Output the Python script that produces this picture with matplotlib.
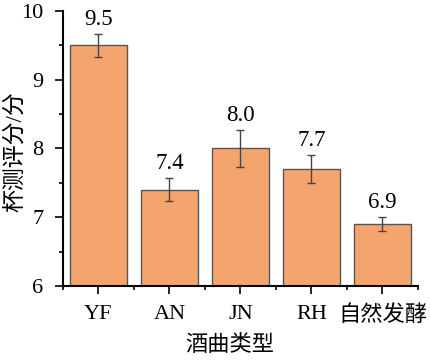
import matplotlib
matplotlib.use("Agg")
import matplotlib.pyplot as plt
from matplotlib.ticker import MultipleLocator, FixedLocator

categories = ["YF", "AN", "JN", "RH", "自然发酵"]
scores = [9.5, 7.4, 8.0, 7.7, 6.9]
errors = [0.17, 0.17, 0.27, 0.20, 0.10]
labels = ["9.5", "7.4", "8.0", "7.7", "6.9"]

plt.rcParams['font.family'] = ['Liberation Serif', 'Noto Sans CJK SC']
plt.rcParams['font.size'] = 14

fig = plt.figure(figsize=(4.30, 3.62), dpi=100)
ax = fig.add_axes([0.1465, 0.21, 0.8255, 0.7596])

x = list(range(len(categories)))
ax.bar(x, [s - 6 for s in scores], bottom=6, width=0.8, color="#F4A56D",
       edgecolor="#555555", linewidth=1.0, zorder=2)
ax.errorbar(x, scores, yerr=errors, fmt='none', ecolor="#444444",
            elinewidth=1.0, capsize=3, capthick=1.0, zorder=3)
for xi, s, e, lab in zip(x, scores, errors, labels):
    ax.text(xi, s + e + 0.06, lab, ha='center', va='bottom', fontsize=16.5)

ax.set_xlim(-0.5, 4.5)
ax.set_ylim(6, 10)
ax.set_xticks(x)
ax.set_xticklabels(categories)
ax.xaxis.set_minor_locator(FixedLocator([i + 0.5 for i in range(-1, 5)]))
ax.yaxis.set_major_locator(MultipleLocator(1))
ax.yaxis.set_minor_locator(MultipleLocator(0.5))
ax.tick_params(axis='both', which='major', direction='out', length=6, width=1.2, labelsize=16)
ax.tick_params(axis='both', which='minor', direction='out', length=3, width=1.2)
ax.tick_params(axis='x', which='major', pad=8)
ax.tick_params(axis='y', which='major', pad=8)
ax.spines['top'].set_visible(False)
ax.spines['right'].set_visible(False)
ax.spines['left'].set_linewidth(1.5)
ax.spines['bottom'].set_linewidth(1.5)
ax.set_xlabel("酒曲类型", fontsize=16)
ax.xaxis.set_label_coords(0.47, -0.18)
ylab = ax.set_ylabel("杯测评分/分", fontsize=16.5)
ylab.set_verticalalignment('center')
ylab.set_horizontalalignment('center')
ax.yaxis.set_label_coords(-0.135, 0.49)

fig.savefig("out.png", dpi=100)
